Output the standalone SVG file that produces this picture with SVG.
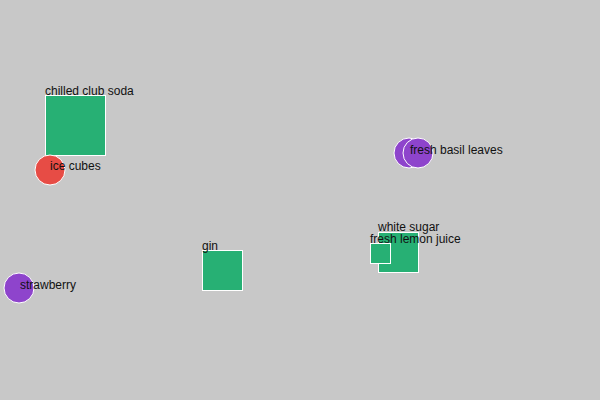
<svg xmlns="http://www.w3.org/2000/svg" width="600" height="400" viewBox="0 0 600 400">
<style>
.bg{fill:#c8c8c8}
.sq{fill:#27b074;stroke:#fff;stroke-width:1}
.pu{fill:#8e44cc;stroke:#fff;stroke-width:1}
.rd{fill:#e74c45;stroke:#fff;stroke-width:1}
text{font-family:"Liberation Sans",Arial,sans-serif;font-size:12px;fill:#111}
</style>
<rect class="bg" x="0" y="0" width="600" height="400"/>
<g id="connectors"></g>
<g id="chilled-club-soda"><rect class="sq" x="45.5" y="95.5" width="60" height="60"/><text x="45" y="95">chilled club soda</text></g>
<g id="ice-cubes"><circle class="rd" cx="50" cy="170" r="15"/><text x="50" y="170">ice cubes</text></g>
<g id="fresh-basil-leaves-2"><circle class="pu" cx="409" cy="153" r="15"/></g>
<g id="fresh-basil-leaves"><circle class="pu" cx="418" cy="153" r="15"/><text x="410" y="154">fresh basil leaves</text></g>
<g id="white-sugar"><rect class="sq" x="378.5" y="232.5" width="40" height="40"/><text x="378" y="231">white sugar</text></g>
<g id="fresh-lemon-juice"><rect class="sq" x="370.5" y="243.5" width="20" height="20"/><text x="370" y="243">fresh lemon juice</text></g>
<g id="gin"><rect class="sq" x="202.5" y="250.5" width="40" height="40"/><text x="202" y="250">gin</text></g>
<g id="strawberry"><circle class="pu" cx="19" cy="288" r="15"/><text x="20" y="289">strawberry</text></g>
</svg>
